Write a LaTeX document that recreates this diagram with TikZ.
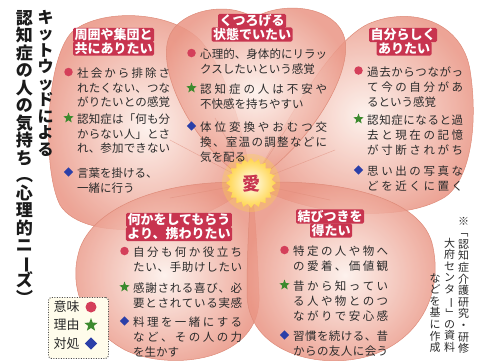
\documentclass[tikz,border=0pt]{standalone}
\usepackage{fontspec}
\usepackage{graphicx}
\newfontfamily\jp{Noto Sans CJK JP}
\usetikzlibrary{shapes.geometric}
\definecolor{petalin}{HTML}{FDF0EA}
\definecolor{petalout}{HTML}{EA9584}
\definecolor{petaledge}{HTML}{DE8B79}
\definecolor{labelred}{HTML}{C8344F}
\definecolor{dotred}{HTML}{D43F5A}
\definecolor{stargreen}{HTML}{3C8A2E}
\definecolor{diablue}{HTML}{2B3FA8}
\definecolor{txt}{HTML}{2B2B2B}
\definecolor{ttl}{HTML}{1A1A1A}
\definecolor{legendbg}{HTML}{FFFCEB}
\definecolor{sunin}{HTML}{FFFDF0}
\definecolor{sunout}{HTML}{FFD449}
\makeatletter
\def\jsp#1{\jsp@a#1\jsp@end}
\def\jsp@a#1#2\jsp@end{#1\ifx\relax#2\relax\else\hfill\jsp@a#2\jsp@end\fi}
\makeatother
\newcommand\jstrut{\vrule height 8.6pt depth 2.6pt width 0pt}
\newcommand\jl[2]{\hbox to #1pt{\jstrut\jsp{#2}}}
\newcommand\jn[1]{\hbox{\jstrut#1}}
\newcommand\vrot[1]{\rotatebox[origin=c]{-90}{#1}}
\def\ils{15}
\newcommand\jitem[5]{%
  \node[#4] (#1s) at (#2-8.5,#3) {};
  \node[itemtext] (#1t) at (#2,#3-4.2) {#5};
}
\begin{document}
\begin{tikzpicture}[x=1pt,y=-1pt,
  petal/.style={inner color=petalin, outer color=petalout, draw=petaledge, line width=0.5pt, fill opacity=0.85},
  vein/.style={draw=petaledge, line width=0.5pt, opacity=0.55},
  itemtext/.style={anchor=north west, inner sep=0pt, align=left, text=txt, font=\jp\fontsize{11.5}{\ils}\selectfont},
  rdot/.style={circle, fill=dotred, minimum size=8.5pt, inner sep=0pt},
  gstar/.style={star, star points=5, star point ratio=2.4, fill=stargreen, minimum size=11pt, inner sep=0pt},
  bdia/.style={diamond, fill=diablue, minimum size=9.5pt, inner sep=0pt},
  lbl/.style={fill=labelred, text=white, font=\jp\bfseries\fontsize{13}{13}\selectfont, inner xsep=1.5pt, inner ysep=1.1pt, text height=10.7pt, text depth=1.3pt, rounded corners=1.5pt},
  ttlA/.style={font=\jp\bfseries\fontsize{16}{16}\selectfont, text=ttl, inner sep=0pt, text height=13.3pt, text depth=1.2pt},
  ttlB/.style={font=\jp\bfseries\fontsize{17}{17}\selectfont, text=ttl, inner sep=0pt, text height=14.1pt, text depth=1.2pt},
  note/.style={font=\jp\fontsize{11}{11}\selectfont, text=txt, inner sep=0pt, text height=9.1pt, text depth=0.75pt},
  legtext/.style={font=\jp\fontsize{13}{13}\selectfont, text=txt, inner sep=0pt, text height=10.8pt, text depth=1.0pt}
]
\fill[white] (0,0) rectangle (481,360);
\useasboundingbox (0,0) rectangle (481,360);

% petals
\path[petal] (251,183) .. controls (200,235) and (85,245) .. (60,205)
  .. controls (42,170) and (45,60) .. (72,32)
  .. controls (100,8) and (170,10) .. (200,40)
  .. controls (228,72) and (246,140) .. (251,183) -- cycle;
\path[petal] (251,183) .. controls (278,140) and (325,45) .. (368,24)
  .. controls (412,5) and (462,22) .. (470,70)
  .. controls (478,120) and (472,178) .. (445,197)
  .. controls (400,225) and (300,215) .. (251,183) -- cycle;
\path[petal] (251,183) .. controls (180,178) and (98,200) .. (80,248)
  .. controls (66,290) and (88,330) .. (125,350)
  .. controls (170,372) and (262,362) .. (259,295)
  .. controls (257,245) and (255,210) .. (251,183) -- cycle;
\path[petal] (251,183) .. controls (322,178) and (418,192) .. (432,243)
  .. controls (444,290) and (422,338) .. (372,355)
  .. controls (320,372) and (246,352) .. (247,292)
  .. controls (247,245) and (250,210) .. (251,183) -- cycle;
\path[petal] (251,183) .. controls (195,150) and (158,75) .. (168,40)
  .. controls (176,10) and (228,0) .. (254,18)
  .. controls (283,0) and (338,6) .. (345,40)
  .. controls (352,78) and (305,150) .. (251,183) -- cycle;

% veins
\coordinate (c0) at (251,183);
\coordinate (v1) at (170,140);
\coordinate (v2) at (215,118);
\coordinate (v3) at (292,120);
\coordinate (v4) at (335,150);
\coordinate (v5) at (330,200);
\coordinate (v6) at (170,198);
\foreach \v in {v1,v2,v3,v4,v5,v6} \draw[vein] (c0) -- (\v);

% sun
\node[circle, fill=sunout, opacity=0.3, minimum size=58pt, inner sep=0pt] (glow) at (251,183) {};
\node[star, star points=20, star point ratio=1.2, minimum size=50pt, inner sep=0pt, inner color=sunin, outer color=sunout] (sun) at (251,183) {};
\node[text=labelred, font=\jp\bfseries\fontsize{18}{18}\selectfont, inner sep=0pt] (ai) at (251,183.5) {愛};

% labels
\node[lbl] (lt1) at (252,21) {くつろげる};
\node[lbl] (lt2) at (252,34.5) {状態でいたい};
\node[lbl] (lul1) at (113.5,35) {周囲や集団と};
\node[lbl] (lul2) at (113.5,48.5) {共にありたい};
\node[lbl] (lur1) at (403,35) {自分らしく};
\node[lbl] (lur2) at (404,48.5) {ありたい};
\node[lbl] (lll1) at (179,220) {何かをしてもらう};
\node[lbl] (lll2) at (179,234) {より、携わりたい};
\node[lbl] (llr1) at (330,216.5) {結びつきを};
\node[lbl] (llr2) at (331,230.5) {得たい};

% upper-left items
\def\ils{14.5}
\jitem{ula}{77}{72}{rdot}{\jl{93}{社会から排除さ}\\\jl{93}{れたくない、つな}\\\jl{93}{がりたいとの感覚}}
\jitem{ulb}{77}{118}{gstar}{\jl{93}{認知症は「何も分}\\\jl{93}{からない人」とさ}\\\jl{93}{れ、参加できない}}
\jitem{ulc}{77}{172}{bdia}{\jn{言葉を掛ける、}\\\jn{一緒に行う}}
% top items
\def\ils{15}
\jitem{ta}{200}{53}{rdot}{\jl{127}{心理的、身体的にリラッ}\\\jn{クスしたいという感覚}}
\jitem{tb}{200}{88}{gstar}{\jl{127}{認知症の人は不安や}\\\jn{不快感を持ちやすい}}
\jitem{tc}{200}{126}{bdia}{\jl{127}{体位変換やおむつ交}\\\jl{127}{換、室温の調整などに}\\\jn{気を配る}}
% upper-right items
\jitem{ura}{367}{70.5}{rdot}{\jl{96}{過去からつながっ}\\\jl{96}{て今の自分があ}\\\jn{るという感覚}}
\jitem{urb}{367}{119}{gstar}{\jl{96}{認知症になると過}\\\jl{96}{去と現在の記憶}\\\jl{96}{が寸断されがち}}
\jitem{urc}{367}{170}{bdia}{\jl{96}{思い出の写真な}\\\jl{96}{どを近くに置く}}
% lower-left items
\jitem{lla}{133}{251}{rdot}{\jl{109}{自分も何か役立ち}\\\jl{109}{たい、手助けしたい}}
\jitem{llb}{133}{287}{gstar}{\jl{109}{感謝される喜び、必}\\\jl{109}{要とされている実感}}
\jitem{llc}{133}{321}{bdia}{\jl{109}{料理を一緒にする}\\\jl{109}{など、その人の力}\\\jn{を生かす}}
% lower-right items
\jitem{lra}{293}{250}{rdot}{\jl{95}{特定の人や物へ}\\\jl{95}{の愛着、価値観}}
\jitem{lrb}{293}{285}{gstar}{\jl{95}{昔から知ってい}\\\jl{95}{る人や物とのつ}\\\jl{95}{ながりで安心感}}
\jitem{lrc}{293}{335}{bdia}{\jl{95}{習慣を続ける、昔}\\\jl{95}{からの友人に会う}}

% legend
\node[draw=black!70, dash pattern=on 1pt off 1.5pt, line width=0.9pt, fill=legendbg, rounded corners=3pt, minimum width=60pt, minimum height=61pt, anchor=north west, inner sep=0pt] (legend) at (48,297) {};
\node[legtext] (lg1) at (66.5,307) {意味};
\node[legtext] (lg2) at (66.5,325) {理由};
\node[legtext] (lg3) at (66.5,343.5) {対処};
\node[rdot, minimum size=11pt] (lg1s) at (91,307) {};
\node[gstar, minimum size=14pt] (lg2s) at (91,325) {};
\node[bdia, minimum size=12.5pt] (lg3s) at (91,343.5) {};

% vertical title
\foreach \c [count=\i from 0] in {キ,ッ,ト,ウ,ッ,ド,に,よ,る}
  \node[ttlA] (ka\i) at (45.5,17+16.5*\i) {\c};
\foreach \c [count=\i from 0] in {認,知,症,の,人,の,気,持,ち,\vrot{（},心,理,的,ニ,\vrot{ー},ズ,\vrot{）}}
  \node[ttlB] (kb\i) at (24.5,18+17.5*\i) {\c};

% source note
\foreach \c [count=\i from 0] in {※,\vrot{「},認,知,症,介,護,研,究,・,研,修}
  \node[note] (na\i) at (463.5,221+11.6*\i) {\c};
\foreach \c [count=\i from 0] in {大,府,セ,ン,タ,\vrot{ー},\vrot{」},の,資,料}
  \node[note] (nb\i) at (449.5,243+11.6*\i) {\c};
\foreach \c [count=\i from 0] in {な,ど,を,基,に,作,成}
  \node[note] (nc\i) at (435,278+11.6*\i) {\c};
\end{tikzpicture}
\end{document}
